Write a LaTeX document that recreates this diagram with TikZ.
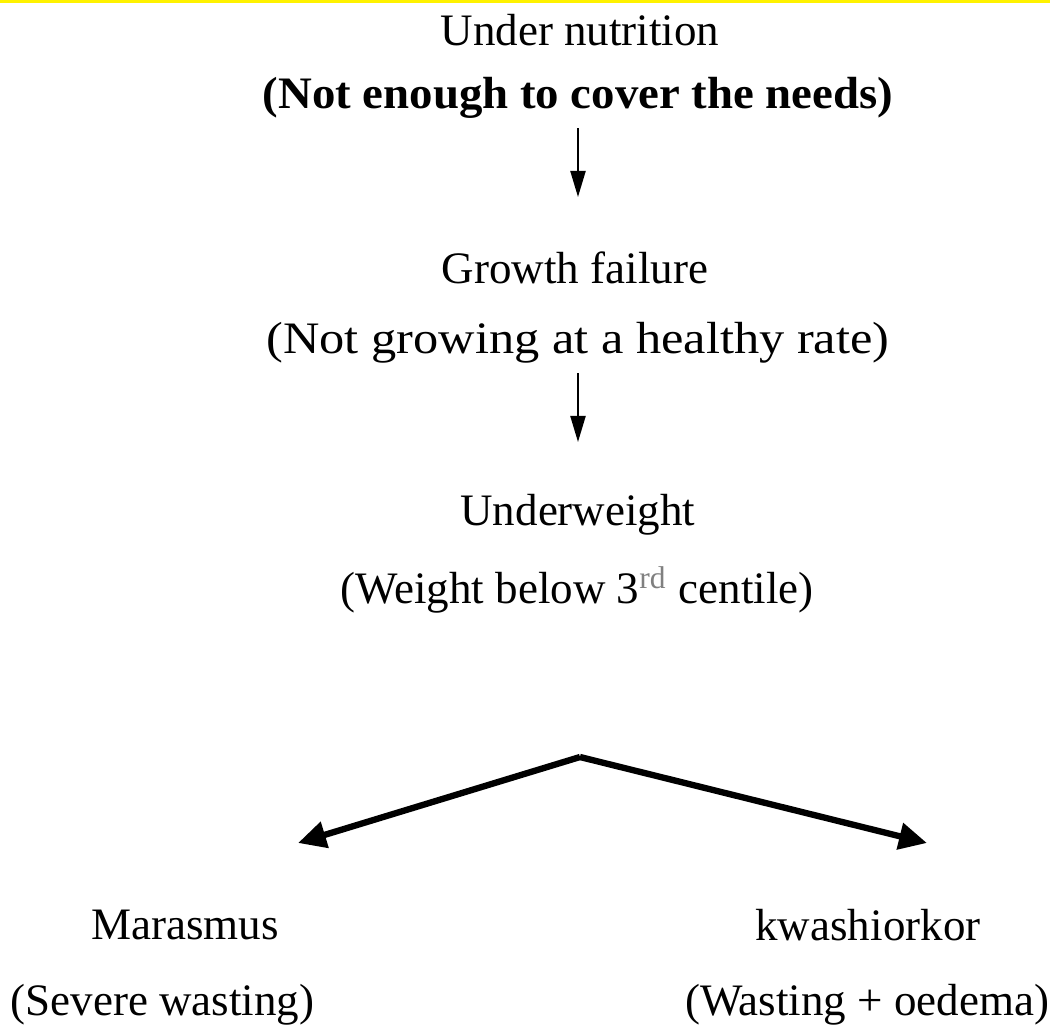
\documentclass[tikz,border=0pt]{standalone}
\usepackage{fontspec}
\setmainfont{Liberation Serif}
\usepackage{xcolor}
\usetikzlibrary{positioning, arrows.meta}

\begin{document}
\begin{tikzpicture}[
  x=0.01cm, y=-0.01cm,
  >=Triangle,
  every node/.style={font=\fontsize{12.8pt}{15pt}\selectfont, inner sep=0pt},
  title/.style={anchor=center},
  note/.style={anchor=center},
  down/.style={->, line width=0.6pt, arrows={-Triangle[length=0.26cm, width=0.15cm]}},
  split/.style={line width=1.8pt, arrows={-Triangle[length=0.28cm, width=0.26cm]}}
]
\useasboundingbox (0,0) rectangle (1050,1032);
\fill[yellow] (0,0) rectangle (1050,3);

% Cause
\node[title] (under) at (580, 30) {Under nutrition};
\node[note, font=\fontsize{12.8pt}{15pt}\selectfont\bfseries] (needs) at (578, 98) {\scalebox{1.04}[1]{(Not enough to cover the needs)}};

% Growth
\node[title] (growth) at (575, 268) {Growth failure};
\node[note] (rate) at (578, 343) {\scalebox{1.12}[1]{(Not growing at a healthy rate)}};

% Weight
\node[title] (weight) at (578, 515) {Underweight};
\node[note] (centile) at (577, 590) {(Weight below 3\textsuperscript{\color{gray}rd} centile)};

% Outcomes
\node[title] (marasmus) at (185, 925) {Marasmus};
\node[note, anchor=west] (wasting) at (10, 1005) {(Severe wasting)};
\node[title] (kwash) at (868, 925) {kwashiorkor};
\node[note, anchor=east] (oedema) at (1050, 1005) {(Wasting + oedema)};

% Arrows
\coordinate (a1) at (578, 197);
\coordinate (a2) at (578, 442);
\coordinate (peak) at (580, 757);
\coordinate (lefttip) at (298, 843);
\coordinate (righttip) at (927, 843);
\draw[down] (578, 128) -- (a1);
\draw[down] (578, 373) -- (a2);
\draw[split] (peak) -- (lefttip);
\draw[split] (peak) -- (righttip);

\end{tikzpicture}
\end{document}
